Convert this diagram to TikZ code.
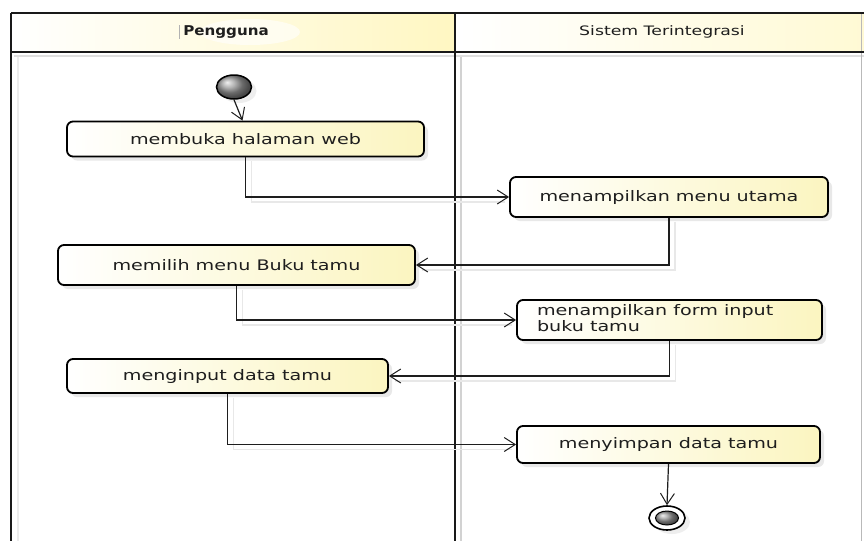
\documentclass[tikz,border=0pt]{standalone}
\usepackage{fontspec}
\setmainfont{DejaVu Sans}
\usetikzlibrary{arrows.meta,shapes.geometric,calc,shadows}
\definecolor{boxyel}{HTML}{FBF5C0}
\definecolor{hdryel}{HTML}{FFF7C2}
\definecolor{ink}{HTML}{1E1E1E}
\newcommand\stretchtext[1]{\scalebox{1.32}[1]{#1}}
\begin{document}
\begin{tikzpicture}[x=1pt,y=-1pt,
  act/.style={draw=black, line width=1.8pt, rounded corners=6pt,
    left color=white, right color=boxyel, inner sep=0pt,
    font=\fontsize{14.5}{16}\selectfont, text=ink,
    drop shadow={shadow xshift=4pt, shadow yshift=-4pt, fill=gray!35}},
  flow/.style={draw=ink, line width=1.2pt,
    -{Straight Barb[length=11pt,width=14pt,line width=1pt]}},
  flowsh/.style={draw=gray!18, line width=1.5pt},
  lane/.style={draw=black!90, line width=2.6pt},
  laneshadow/.style={draw=gray!35, line width=2pt},
  hdr/.style={font=\fontsize{13}{15}\selectfont, text=ink, inner sep=0pt}]
\useasboundingbox (0,0) rectangle (864,541);
\fill[white] (0,0) rectangle (864,541);
% header fills
\fill[left color=white, right color=hdryel] (11,13) rectangle (455,52);
\fill[left color=white, right color=hdryel!70] (458,13) rectangle (864,52);
\fill[white, opacity=0.6] (250,32) ellipse (50pt and 13pt);
% lane shadows
\draw[laneshadow] (461,55) -- (461,541);
\draw[draw=gray!15, line width=2pt] (18,56) -- (18,541);
\draw[draw=gray!25, line width=1.5pt] (14,56) -- (864,56);
\draw[draw=gray!55, line width=1pt] (861,13) -- (861,541);
% lane lines
\draw[lane] (11,13) -- (864,13);
\draw[lane] (11,52) -- (864,52);
\draw[lane] (11,13) -- (11,541);
\draw[lane] (455,13) -- (455,541);
% header labels
\draw[gray!60, line width=0.8pt] (179,25) -- (179,39);
\node[hdr, font=\fontsize{13.5}{15}\selectfont\bfseries] (lane1) at (226,32) {\scalebox{1.12}[1]{Pengguna}};
\node[hdr] (lane2) at (662,32) {\scalebox{1.33}[1]{Sistem Terintegrasi}};
% start
\node[ellipse, draw=black, line width=1.5pt, minimum width=35pt, minimum height=24pt,
  inner sep=0pt, ball color=gray!80, drop shadow={shadow xshift=5pt, shadow yshift=-4pt, fill=gray!25}] (start) at (234,87) {};
% activities
\node[act, minimum width=357pt, minimum height=35pt] (b1) at (245.5,139) {\stretchtext{membuka halaman web}};
\node[act, minimum width=318pt, minimum height=40pt] (b2) at (669,197) {\stretchtext{menampilkan menu utama}};
\node[act, minimum width=357pt, minimum height=40pt] (b3) at (236.5,265) {\stretchtext{memilih menu Buku tamu}};
\node[act, minimum width=305pt, minimum height=40pt] (b4) at (669.5,320)
  {\makebox[305pt][l]{\hspace{20pt}\stretchtext{\begin{tabular}{@{}l@{}}menampilkan form input\\buku tamu\end{tabular}}}};
\node[act, minimum width=321pt, minimum height=34pt] (b5) at (227.5,376) {\stretchtext{menginput data tamu}};
\node[act, minimum width=303pt, minimum height=37pt] (b6) at (668.5,444.5) {\stretchtext{menyimpan data tamu}};
% end
\node[ellipse, draw=black, line width=1.6pt, minimum width=36pt, minimum height=24pt,
  inner sep=0pt, fill=white, drop shadow={shadow xshift=5pt, shadow yshift=-4pt, fill=gray!25}] (end) at (667,518) {};
\node[ellipse, draw=black, line width=1pt, minimum width=23pt, minimum height=14pt,
  inner sep=0pt, ball color=gray!80] (endin) at (end.center) {};
% connector shadows
\draw[flowsh] ($(b1.south)+(6,4)$) |- ($(b2.west)+(-4,5)$);
\draw[flowsh] ($(b2.south)+(6,4)$) |- ($(b3.east)+(6,5)$);
\draw[flowsh] ($(b3.south)+(6,4)$) |- ($(b4.west)+(-4,5)$);
\draw[flowsh] ($(b4.south)+(6,4)$) |- ($(b5.east)+(6,5)$);
\draw[flowsh] ($(b5.south)+(6,4)$) |- ($(b6.west)+(-4,5)$);
% connectors
\draw[flow] (start.south) -- ([xshift=-3pt]b1.north);
\draw[flow] (b1.south) |- (b2.west);
\draw[flow] (b2.south) |- (b3.east);
\draw[flow] (b3.south) |- (b4.west);
\draw[flow] (b4.south) |- (b5.east);
\draw[flow] (b5.south) |- (b6.west);
\draw[flow] (b6.south) -- (end.north);
\end{tikzpicture}
\end{document}
